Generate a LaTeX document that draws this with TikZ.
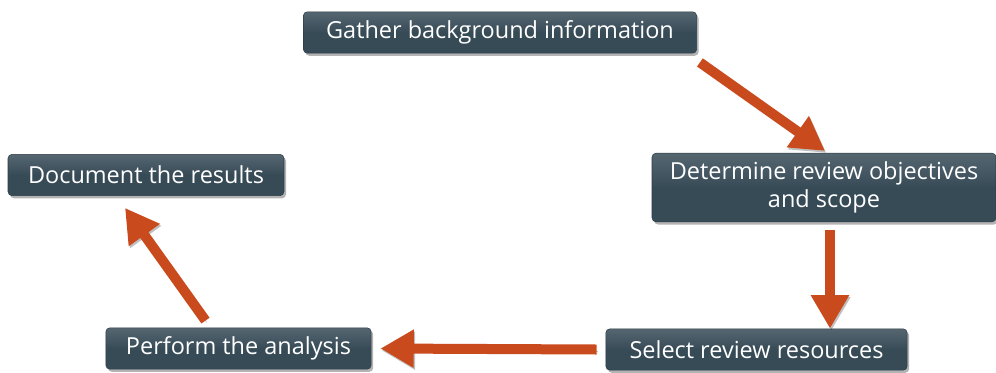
\documentclass[tikz,border=0pt]{standalone}
\usepackage{fontspec}
\setmainfont{Open Sans}
\usetikzlibrary{positioning, arrows.meta, shadows}
\definecolor{slate}{HTML}{374B57}
\definecolor{rust}{HTML}{C94A1C}

\begin{document}
\begin{tikzpicture}[
            x=0.75pt, y=-0.75pt,
            stepbox/.style={draw=slate!80!black, rounded corners=3pt, align=center, minimum height=31pt, inner xsep=4pt, inner ysep=2pt,
                top color=slate!85!white, bottom color=slate, middle color=slate, text=white,
                font=\fontsize{17.6}{20.5}\selectfont,
                drop shadow={shadow xshift=1.5pt, shadow yshift=-2pt, opacity=0.6}},
            arrow/.style={-{Triangle[width=27pt, length=25pt]}, line width=7.5pt, draw=rust,
                preaction={draw=black, opacity=0.25, transform canvas={shift={(1pt,-1.5pt)}}}}
        ]
            \useasboundingbox (0,0) rectangle (996,372);
            \node[stepbox, minimum width=295pt] (gather) at (500,32.5) {Gather background information};
\node[stepbox, minimum width=258pt, minimum height=51.5pt] (determine) at (824,187.5) {Determine review objectives\\and scope};
            \node[stepbox, minimum width=226pt] (select) at (756.5,349.5) {Select review resources};
            \node[stepbox, minimum width=199pt] (perform) at (238.5,348.5) {Perform the analysis};
\node[stepbox, minimum width=207pt] (document) at (146,175) {Document the results};
            \draw[arrow] ([shift={(3,9)}]gather.south east) -- ([shift={(1,-2)}]determine.north);
            \draw[arrow] ([shift={(6,8)}]determine.south) -- ([shift={(6,0)}]determine.south |- select.north);
            \draw[arrow] ([shift={(-9,0)}]select.west) -- ([shift={(9,0)}]perform.east);
\draw[arrow] ([shift={(-33,-7)}]perform.north) -- ([shift={(-21,12)}]document.south);
        \end{tikzpicture}
\end{document}
